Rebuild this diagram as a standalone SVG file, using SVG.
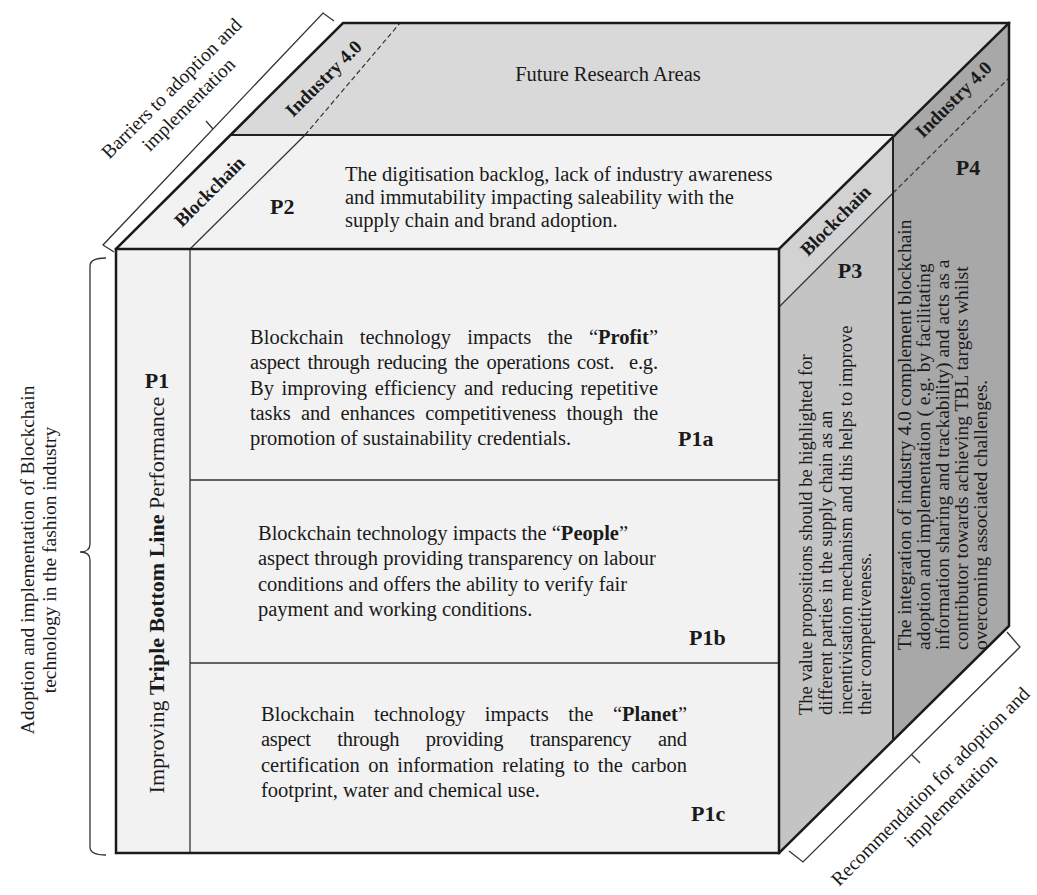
<svg xmlns="http://www.w3.org/2000/svg" width="1037" height="895" viewBox="0 0 1037 895">
<style>
.t{font-family:"Liberation Serif","Times New Roman",serif;fill:#1a1a1a}
.b{font-size:20.5px}
.lab{font-size:19.5px}
.pl{font-size:22px;font-weight:bold}
.st{font-size:19px;font-weight:bold}
.ol{fill:none;stroke:#1a1a1a;stroke-width:2.5;stroke-linejoin:miter;stroke-linecap:square}
.mid{fill:none;stroke:#222;stroke-width:2}
.in{fill:none;stroke:#333;stroke-width:1.3}
.dash{fill:none;stroke:#333;stroke-width:1.2;stroke-dasharray:5 3}
.br{fill:none;stroke:#333;stroke-width:1.3}
</style>
<rect width="1037" height="895" fill="#ffffff"/>
<g id="faces">
 <polygon points="230,135 343,23 1009,23 893,135" fill="#d9d9d9"/>
 <polygon points="116,249 230,135 893,135 779,249" fill="#f2f2f2"/>
 <polygon points="779,249 893,135 893,739 779,853" fill="#c4c4c4"/>
 <polygon points="779,249 893,135 893,193 779,307" fill="#d2d2d2"/>
 <polygon points="893,135 1009,23 1009,626 893,739" fill="#a8a8a8"/>
 <rect x="116" y="249" width="663" height="604" fill="#f2f2f2"/>
</g>
<g id="connectors">
 <line class="in" x1="190" y1="249" x2="190" y2="853"/>
 <line class="in" x1="190" y1="480" x2="779" y2="480"/>
 <line class="in" x1="190" y1="663" x2="779" y2="663"/>
 <line class="in" x1="190" y1="249" x2="305" y2="135"/>
 <line class="dash" x1="305" y1="135" x2="400" y2="23"/>
 <line class="in" x1="779" y1="307" x2="893" y2="193"/>
 <line class="dash" x1="893" y1="193" x2="1009" y2="78"/>
 <line class="mid" x1="230" y1="135" x2="893" y2="135"/>
 <line class="mid" x1="893" y1="135" x2="893" y2="739"/>
 <polyline class="ol" points="116,249 343,23 1009,23 1009,626 779,853"/>
 <line class="ol" x1="779" y1="249" x2="1009" y2="23"/>
 <rect class="ol" x="116" y="249" width="663" height="604"/>
 <path class="br" d="M106,258 Q90,258 90,266 L90,544 Q90,552 80,552 Q90,552 90,560 L90,847 Q90,855 106,855"/>
 <path class="br" d="M114,252 L103,245 L323,13 L334,21 M213,129 L206,121"/>
 <path class="br" d="M789,851 L803,862 L1020,647 L1007,632 M911.5,754.5 L920,763"/>
</g>
<g id="top-face">
 <text class="t b" x="608" y="81" text-anchor="middle">Future Research Areas</text>
 <text class="t st" text-anchor="middle" transform="translate(328,83) rotate(-45)">Industry 4.0</text>
 <text class="t st" text-anchor="middle" transform="translate(214,196) rotate(-45)">Blockchain</text>
</g>
<g id="p2">
 <text class="t pl" x="270" y="214">P2</text>
 <text class="t b" x="345" y="181">The digitisation backlog, lack of industry awareness</text>
 <text class="t b" x="345" y="204">and immutability impacting saleability with the</text>
 <text class="t b" x="345" y="227">supply chain and brand adoption.</text>
</g>
<g id="p1">
 <text class="t pl" x="157" y="388" text-anchor="middle">P1</text>
 <text class="t" font-size="22" text-anchor="middle" transform="translate(164,595) rotate(-90)">Improving <tspan font-weight="bold">Triple Bottom Line</tspan> Performance</text>
</g>
<g id="p1a">
 <text class="t b" x="250" y="344" word-spacing="11.2" textLength="408" lengthAdjust="spacing">Blockchain technology impacts the “<tspan font-weight="bold">Profit</tspan>”</text>
 <text class="t b" x="250" y="369.3" word-spacing="2.5" textLength="408" lengthAdjust="spacing">aspect through reducing the operations cost. &#160;e.g.</text>
 <text class="t b" x="250" y="394.6" word-spacing="2.5" textLength="408" lengthAdjust="spacing">By improving efficiency and reducing repetitive</text>
 <text class="t b" x="250" y="419.9" word-spacing="5.3" textLength="408" lengthAdjust="spacing">tasks and enhances competitiveness though the</text>
 <text class="t b" x="250" y="445.2">promotion of sustainability credentials.</text>
 <text class="t pl" x="678" y="446">P1a</text>
</g>
<g id="p1b">
 <text class="t b" x="258" y="540.1">Blockchain technology impacts the “<tspan font-weight="bold">People</tspan>”</text>
 <text class="t b" x="258" y="565.4">aspect through providing transparency on labour</text>
 <text class="t b" x="258" y="590.7">conditions and offers the ability to verify fair</text>
 <text class="t b" x="258" y="616">payment and working conditions.</text>
 <text class="t pl" x="689" y="645">P1b</text>
</g>
<g id="p1c">
 <text class="t b" x="261" y="721" word-spacing="14.5" textLength="426" lengthAdjust="spacing">Blockchain technology impacts the “<tspan font-weight="bold">Planet</tspan>”</text>
 <text class="t b" x="261" y="746.3" word-spacing="21.7" textLength="426" lengthAdjust="spacing">aspect through providing transparency and</text>
 <text class="t b" x="261" y="771.6" word-spacing="3.5" textLength="426" lengthAdjust="spacing">certification on information relating to the carbon</text>
 <text class="t b" x="261" y="796.9">footprint, water and chemical use.</text>
 <text class="t pl" x="691" y="821">P1c</text>
</g>
<g id="p3">
 <text class="t st" text-anchor="middle" transform="translate(840,225) rotate(-45)">Blockchain</text>
 <text class="t pl" x="850" y="278" text-anchor="middle">P3</text>
 <g font-size="18.5">
  <text class="t" transform="translate(812,715) rotate(-90)">The value propositions should be highlighted for</text>
  <text class="t" transform="translate(832,715) rotate(-90)">different parties in the supply chain as an</text>
  <text class="t" transform="translate(852,715) rotate(-90)">incentivisation mechanism and this helps to improve</text>
  <text class="t" transform="translate(871,715) rotate(-90)">their competitiveness.</text>
 </g>
</g>
<g id="p4">
 <text class="t st" text-anchor="middle" transform="translate(958,104) rotate(-45)">Industry 4.0</text>
 <text class="t pl" x="968" y="175" text-anchor="middle">P4</text>
 <g font-size="19.5">
  <text class="t" transform="translate(911,650) rotate(-90)">The integration of industry 4.0 complement blockchain</text>
  <text class="t" transform="translate(930,650) rotate(-90)">adoption and implementation ( e.g. by facilitating</text>
  <text class="t" transform="translate(949,650) rotate(-90)">information sharing and trackability) and acts as a</text>
  <text class="t" transform="translate(968,650) rotate(-90)">contributor towards achieving TBL targets whilst</text>
  <text class="t" transform="translate(987,650) rotate(-90)">overcoming associated challenges.</text>
 </g>
</g>
<g id="labels">
 <text class="t lab" text-anchor="middle" transform="translate(176,93) rotate(-45)">Barriers to adoption and</text>
 <text class="t lab" text-anchor="middle" transform="translate(193,109) rotate(-45)">implementation</text>
 <text class="t lab" text-anchor="middle" transform="translate(935,791) rotate(-45)">Recommendation for adoption and</text>
 <text class="t lab" text-anchor="middle" transform="translate(955,805) rotate(-45)">implementation</text>
 <text class="t lab" text-anchor="middle" transform="translate(34,560) rotate(-90)">Adoption and implementation of Blockchain</text>
 <text class="t lab" text-anchor="middle" transform="translate(56,560) rotate(-90)">technology in the fashion industry</text>
</g>
</svg>
